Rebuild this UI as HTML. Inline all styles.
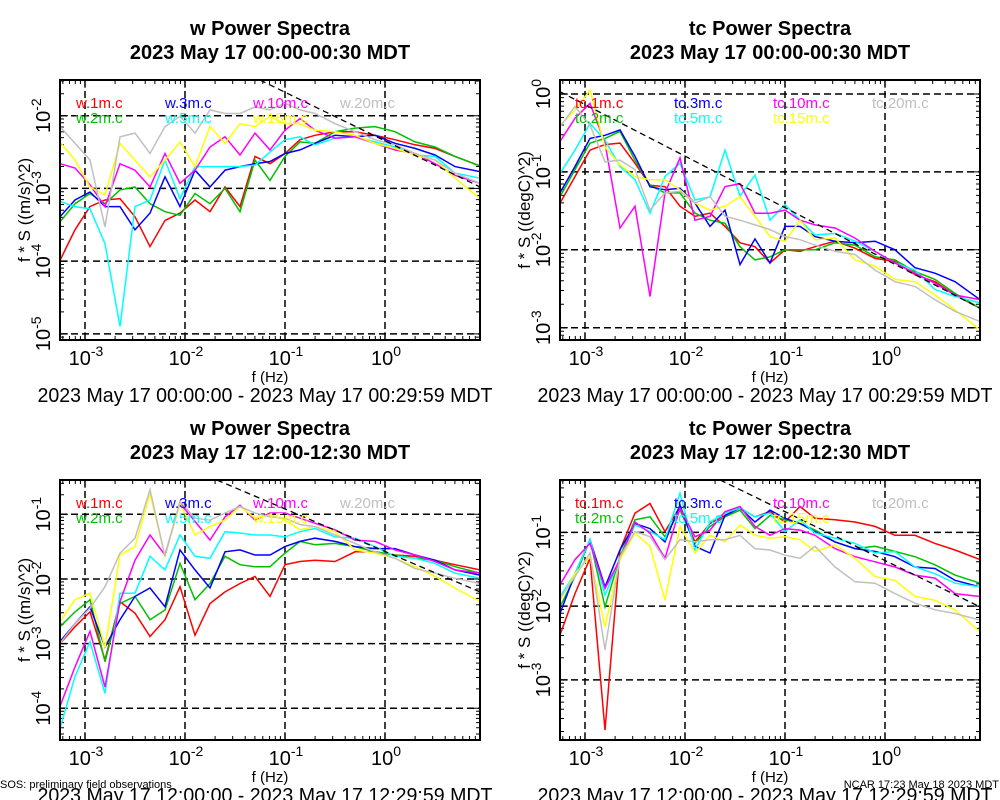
<!DOCTYPE html>
<html><head><meta charset="utf-8"><style>
html,body{margin:0;padding:0;background:#fff;}
svg{display:block;font-family:"Liberation Sans",sans-serif;}
</style></head><body>
<svg id="chart" width="1000" height="800" viewBox="0 0 1000 800" xmlns="http://www.w3.org/2000/svg">
<rect width="1000" height="800" fill="#fff"/>
</svg>
<script>
// shared frequency grid (log10 Hz)
const freqLog = [-3.25,-3.1,-2.95,-2.8,-2.65,-2.5,-2.35,-2.2,-2.05,-1.9,-1.75,-1.6,-1.45,-1.3,-1.15,-1.0,-0.85,-0.7,-0.5,-0.3,-0.1,0.1,0.3,0.5,0.7,0.95];
const seriesNames = ['1m','2m','3m','5m','10m','15m','20m'];
const seriesColors = ['#ff0000','#00c000','#0000ff','#00ffff','#ff00ff','#ffff00','#c0c0c0'];

// Panel 1: w 00:00 (log10 of f*S)
const w0_1m  = [-3.99,-3.57,-3.25,-3.16,-3.14,-3.39,-3.80,-3.44,-3.34,-3.16,-3.32,-2.98,-3.25,-2.56,-2.66,-2.52,-2.33,-2.27,-2.22,-2.22,-2.27,-2.33,-2.40,-2.45,-2.56,-2.69];
const w0_2m  = [-3.46,-3.21,-3.07,-3.21,-3.02,-2.98,-3.21,-3.32,-3.37,-3.07,-3.21,-3.00,-3.32,-2.61,-2.89,-2.56,-2.36,-2.38,-2.22,-2.17,-2.15,-2.22,-2.36,-2.43,-2.56,-2.69];
const w0_3m  = [-3.39,-3.16,-3.05,-3.25,-3.25,-3.57,-3.34,-2.84,-3.25,-2.75,-2.98,-2.75,-2.70,-2.66,-2.63,-2.52,-2.47,-2.38,-2.27,-2.29,-2.27,-2.38,-2.45,-2.54,-2.70,-2.77];
const w0_5m  = [-3.18,-3.25,-3.28,-3.76,-4.90,-3.25,-3.16,-2.61,-3.14,-2.70,-2.70,-2.70,-2.70,-2.68,-2.50,-2.33,-2.29,-2.40,-2.31,-2.29,-2.36,-2.43,-2.54,-2.56,-2.79,-2.86];
const w0_10m = [-2.66,-2.72,-2.95,-3.25,-2.66,-2.75,-2.98,-2.52,-2.93,-2.75,-2.43,-2.29,-2.54,-2.24,-2.47,-2.20,-2.04,-2.20,-2.31,-2.29,-2.38,-2.47,-2.52,-2.66,-2.82,-2.93];
const w0_15m = [-2.36,-2.61,-2.98,-3.09,-2.38,-2.61,-2.84,-2.61,-2.36,-2.70,-2.15,-2.38,-2.11,-2.15,-2.01,-2.11,-2.11,-2.20,-2.22,-2.27,-2.38,-2.45,-2.54,-2.61,-2.86,-3.14];
const w0_20m = [-2.15,-2.38,-2.61,-3.53,-2.29,-2.24,-2.52,-2.15,-2.01,-2.24,-1.92,-1.97,-1.97,-1.88,-1.92,-1.83,-1.92,-1.97,-2.11,-2.22,-2.33,-2.40,-2.52,-2.61,-2.79,-2.93];

// Panel 2: tc 00:00
const t0_1m  = [-1.40,-1.06,-0.72,-0.65,-0.63,-0.89,-1.17,-1.19,-1.44,-1.57,-1.53,-1.70,-1.91,-1.96,-2.17,-2.00,-2.02,-1.96,-1.89,-1.98,-2.11,-2.15,-2.32,-2.41,-2.58,-2.75];
const t0_2m  = [-1.32,-0.97,-0.63,-0.57,-0.48,-0.85,-1.17,-1.27,-1.27,-1.53,-1.62,-1.66,-1.96,-2.13,-2.09,-2.00,-2.00,-2.00,-1.91,-1.94,-2.09,-2.13,-2.28,-2.38,-2.56,-2.75];
const t0_3m  = [-1.27,-0.93,-0.57,-0.53,-0.46,-0.80,-1.19,-1.23,-1.21,-1.40,-1.70,-1.49,-2.19,-1.86,-2.17,-1.70,-1.70,-1.83,-1.89,-1.91,-1.89,-2.00,-2.23,-2.30,-2.41,-2.64];
const t0_5m  = [-1.02,-0.72,-0.38,-0.59,-0.93,-1.10,-1.53,-1.06,-0.89,-1.36,-1.32,-0.72,-1.31,-1.04,-1.62,-1.42,-1.62,-1.81,-1.79,-1.89,-2.02,-2.17,-2.26,-2.51,-2.60,-2.68];
const t0_10m = [-0.61,-0.31,-0.12,-0.63,-1.72,-1.44,-2.60,-1.27,-0.82,-1.62,-1.57,-1.19,-1.15,-1.53,-1.53,-1.49,-1.62,-1.68,-1.72,-1.85,-2.02,-2.17,-2.30,-2.43,-2.58,-2.64];
const t0_15m = [-0.40,-0.21,0.05,-0.68,-0.91,-1.06,-1.10,-1.10,-1.23,-1.40,-1.49,-1.44,-1.32,-1.57,-1.83,-1.89,-1.62,-1.87,-1.85,-2.13,-2.21,-2.38,-2.41,-2.58,-2.77,-3.03];
const t0_20m = [-0.42,-0.16,-0.40,-0.87,-0.85,-0.97,-1.49,-1.27,-1.25,-1.40,-1.32,-1.57,-1.62,-1.68,-1.74,-1.83,-1.87,-1.94,-2.02,-2.06,-2.26,-2.41,-2.47,-2.64,-2.79,-2.92];

// Panel 3: w 12:00
const w12_1m  = [-3.00,-2.74,-2.51,-3.25,-2.35,-2.53,-2.89,-2.63,-2.12,-2.87,-2.38,-2.20,-2.07,-1.96,-2.27,-1.78,-1.73,-1.71,-1.73,-1.58,-1.58,-1.63,-1.65,-1.71,-1.78,-1.86];
const w12_2m  = [-2.74,-2.51,-2.32,-3.28,-2.38,-2.27,-2.63,-2.48,-1.76,-2.32,-2.07,-1.65,-1.78,-1.81,-1.81,-1.60,-1.42,-1.47,-1.45,-1.50,-1.58,-1.63,-1.68,-1.71,-1.81,-1.91];
const w12_3m  = [-2.97,-2.69,-2.43,-3.05,-2.63,-2.27,-2.14,-2.43,-1.55,-1.86,-2.14,-1.58,-1.55,-1.63,-1.63,-1.50,-1.42,-1.37,-1.42,-1.50,-1.53,-1.53,-1.63,-1.71,-1.86,-1.94];
const w12_5m  = [-4.31,-3.51,-2.97,-3.77,-2.22,-2.22,-1.65,-1.86,-1.32,-1.65,-1.68,-1.27,-1.29,-1.32,-1.32,-1.35,-1.27,-1.22,-1.35,-1.37,-1.50,-1.65,-1.68,-1.76,-1.91,-1.99];
const w12_10m = [-3.97,-3.36,-2.81,-3.67,-2.35,-1.71,-1.32,-1.63,-0.83,-1.11,-1.40,-1.04,-0.86,-1.09,-0.98,-0.98,-1.06,-1.14,-1.24,-1.40,-1.42,-1.55,-1.63,-1.73,-1.86,-1.91];
const w12_15m = [-2.66,-2.32,-2.22,-3.06,-1.63,-1.50,-0.68,-1.65,-0.83,-1.32,-1.19,-1.09,-0.88,-1.06,-1.01,-1.09,-1.24,-1.19,-1.27,-1.55,-1.60,-1.68,-1.81,-1.96,-2.14,-2.35];
const w12_20m = [-3.00,-2.69,-2.45,-2.12,-1.60,-1.37,-0.62,-1.65,-0.80,-1.06,-1.09,-0.98,-0.88,-0.98,-1.04,-1.06,-1.16,-1.19,-1.32,-1.45,-1.58,-1.68,-1.84,-1.91,-1.99,-2.07];

// Panel 4: tc 12:00
const t12_1m  = [-2.39,-1.83,-1.35,-3.68,-1.24,-0.74,-0.61,-0.99,-0.65,-1.13,-0.88,-0.77,-0.67,-0.79,-0.72,-0.86,-0.65,-0.81,-0.83,-0.86,-0.92,-1.04,-1.04,-1.15,-1.24,-1.37];
const t12_2m  = [-2.01,-1.60,-1.10,-2.01,-1.33,-0.83,-0.79,-1.06,-0.70,-1.15,-0.92,-0.79,-0.70,-0.95,-0.77,-0.83,-0.88,-0.97,-1.13,-1.22,-1.19,-1.26,-1.33,-1.44,-1.58,-1.69];
const t12_3m  = [-2.10,-1.56,-1.10,-1.74,-1.24,-0.88,-0.95,-1.13,-0.63,-1.19,-1.28,-0.77,-0.67,-0.86,-0.70,-0.81,-0.88,-0.99,-1.13,-1.22,-1.26,-1.33,-1.47,-1.49,-1.65,-1.74];
const t12_5m  = [-1.87,-1.56,-1.10,-1.85,-1.35,-0.90,-0.99,-1.10,-0.47,-1.24,-0.86,-0.74,-0.67,-0.79,-0.74,-0.99,-0.83,-1.01,-1.08,-1.15,-1.28,-1.26,-1.47,-1.56,-1.69,-1.74];
const t12_10m = [-1.71,-1.37,-1.15,-1.76,-1.37,-0.86,-1.01,-1.35,-0.67,-1.06,-0.97,-0.72,-0.65,-0.92,-1.04,-0.95,-0.97,-1.04,-1.22,-1.33,-1.40,-1.47,-1.58,-1.62,-1.83,-1.87];
const t12_15m = [-1.92,-1.56,-1.33,-2.28,-1.37,-1.01,-1.19,-1.92,-0.92,-1.28,-1.04,-1.13,-0.90,-1.04,-1.08,-1.06,-1.10,-1.26,-1.17,-1.35,-1.60,-1.65,-1.87,-1.92,-2.05,-2.35];
const t12_20m = [-1.89,-1.60,-1.28,-2.59,-1.33,-0.99,-1.06,-1.37,-1.10,-1.13,-1.10,-1.10,-1.04,-1.22,-1.24,-1.31,-1.35,-1.19,-1.47,-1.67,-1.69,-1.83,-1.96,-2.05,-2.10,-2.19];

// -5/3 reference line anchors [logf, log(f*S)]
const ref0w = [[-1.25,-1.51],[0.95,-2.98]];
const ref0t = [[-3.25,0.03],[0.95,-2.75]];
const ref12w = [[-1.68,-0.47],[0.95,-2.20]];
const ref12t = [[-1.65,-0.29],[0.95,-2.01]];

const xTicks = [-3,-2,-1,0];
const xTickLabels = ['-3','-2','-1','0'];

const panels = [
 {id:'w-00',left:60,top:80,ymin:-5.085,ymax:-1.509,yTicks:[-2,-3,-4,-5],prefix:'w',title:'w Power Spectra',sub:'2023 May 17 00:00-00:30 MDT',date:'2023 May 17 00:00:00 - 2023 May 17 00:29:59 MDT',ylab:'f * S ((m/s)^2)',data:[w0_1m,w0_2m,w0_3m,w0_5m,w0_10m,w0_15m,w0_20m],ref:ref0w},
 {id:'tc-00',left:560,top:80,ymin:-3.158,ymax:0.18,yTicks:[0,-1,-2,-3],prefix:'tc',title:'tc Power Spectra',sub:'2023 May 17 00:00-00:30 MDT',date:'2023 May 17 00:00:00 - 2023 May 17 00:29:59 MDT',ylab:'f * S ((degC)^2)',data:[t0_1m,t0_2m,t0_3m,t0_5m,t0_10m,t0_15m,t0_20m],ref:ref0t},
 {id:'w-12',left:60,top:480,ymin:-4.49,ymax:-0.47,yTicks:[-1,-2,-3,-4],prefix:'w',title:'w Power Spectra',sub:'2023 May 17 12:00-12:30 MDT',date:'2023 May 17 12:00:00 - 2023 May 17 12:29:59 MDT',ylab:'f * S ((m/s)^2)',data:[w12_1m,w12_2m,w12_3m,w12_5m,w12_10m,w12_15m,w12_20m],ref:ref12w},
 {id:'tc-12',left:560,top:480,ymin:-3.814,ymax:-0.291,yTicks:[-1,-2,-3],prefix:'tc',title:'tc Power Spectra',sub:'2023 May 17 12:00-12:30 MDT',date:'2023 May 17 12:00:00 - 2023 May 17 12:29:59 MDT',ylab:'f * S ((degC)^2)',data:[t12_1m,t12_2m,t12_3m,t12_5m,t12_10m,t12_15m,t12_20m],ref:ref12t}
];

const NS='http://www.w3.org/2000/svg';
const svg=document.getElementById('chart');
const W=420,H=260,XMIN=-3.25,XMAX=0.95;
function mk(tag,attrs,parent){const e=document.createElementNS(NS,tag);for(const k in attrs)e.setAttribute(k,attrs[k]);(parent||svg).appendChild(e);return e;}

panels.forEach((p,pi)=>{
  const g=mk('g',{});
  
  
  const xs=v=>p.left+(v-XMIN)/(XMAX-XMIN)*W;
  const ys=v=>p.top+(p.ymax-v)/(p.ymax-p.ymin)*H;
  const cx=p.left+210;
  // titles
  const t1=mk('text',{x:cx,y:p.top-45,'text-anchor':'middle','font-size':'20','font-weight':'bold'},g);t1.textContent=p.title;
  
  
  const t2=mk('text',{x:cx,y:p.top-21,'text-anchor':'middle','font-size':'20','font-weight':'bold'},g);t2.textContent=p.sub;
  
  
  // clip
  const cp=mk('clipPath',{id:'clip'+pi},g);mk('rect',{x:p.left,y:p.top,width:W,height:H},cp);
  // minor ticks
  let ticks='';
  for(let d=-4;d<=1;d++)for(let m=1;m<10;m++){const lv=d+Math.log10(m);if(lv<XMIN||lv>XMAX)continue;const x=xs(lv);const L=m===1?8:4;
    ticks+=`M${x},${p.top}v${L}M${x},${p.top+H}v${-L}`;}
  for(let d=-6;d<=1;d++)for(let m=1;m<10;m++){const lv=d+Math.log10(m);if(lv<p.ymin||lv>p.ymax)continue;const y=ys(lv);const L=m===1?8:4;
    ticks+=`M${p.left},${y}h${L}M${p.left+W},${y}h${-L}`;}
  const tk=mk('path',{d:ticks,stroke:'#000','stroke-width':'1',fill:'none'},g);
  
  
  // grid
  let gd='';
  xTicks.forEach(v=>{const x=xs(v);gd+=`M${x},${p.top}V${p.top+H}`;});
  p.yTicks.forEach(v=>{const y=ys(v);gd+=`M${p.left},${y}H${p.left+W}`;});
  const gp=mk('path',{d:gd,stroke:'#000','stroke-width':'1.5','stroke-dasharray':'7,4',fill:'none'},g);
  
  
  // series
  const sg=mk('g',{'clip-path':`url(#clip${pi})`},g);
  p.data.forEach((arr,si)=>{
    const pts=arr.map((v,i)=>xs(freqLog[i]).toFixed(1)+','+ys(v).toFixed(1)).join(' ');
    const pl=mk('polyline',{points:pts,fill:'none',stroke:seriesColors[si],'stroke-width':'1.5','stroke-linejoin':'miter'},sg);
    
    
  });
  // reference line
  const rl=mk('line',{x1:xs(p.ref[0][0]),y1:ys(p.ref[0][1]),x2:xs(p.ref[1][0]),y2:ys(p.ref[1][1]),stroke:'#000','stroke-width':'1.3','stroke-dasharray':'6,4'},sg);
  
  
  // legend
  const cols=pi%2===0?[76,165,253,340]:[575,674,773,872];
  const colIdx=[0,0,1,1,2,2,3];
  seriesNames.forEach((n,si)=>{
    const tx=mk('text',{x:cols[colIdx[si]],y:p.top+28+(si%2)*15,'font-size':'15',fill:seriesColors[si]},g);
    tx.textContent=p.prefix+'.'+n+'.c';
    
    
  });
  // frame
  const fr=mk('rect',{x:p.left,y:p.top,width:W,height:H,fill:'none',stroke:'#000','stroke-width':'2'},g);
  
  
  // x tick labels
  xTicks.forEach((v,i)=>{
    const tx=mk('text',{x:xs(v)+1,y:p.top+H+25,'text-anchor':'middle','font-size':'20'},g);
    
    
    const a=mk('tspan',{},tx);a.textContent='10';
    const b=mk('tspan',{dy:'-9','font-size':'14'},tx);b.textContent=xTickLabels[i];
  });
  const xl=mk('text',{x:cx,y:p.top+H+42,'text-anchor':'middle','font-size':'15'},g);xl.textContent='f (Hz)';
  
  
  const dl=mk('text',{x:cx-5,y:p.top+H+62,'text-anchor':'middle','font-size':'20',textLength:'455',lengthAdjust:'spacingAndGlyphs'},g);dl.textContent=p.date;
  
  
  // y tick labels
  p.yTicks.forEach(v=>{
    const y=ys(v);
    const tx=mk('text',{transform:`translate(${p.left-10},${y}) rotate(-90)`,'text-anchor':'middle','font-size':'20'},g);
    
    
    const a=mk('tspan',{},tx);a.textContent='10';
    const b=mk('tspan',{dy:'-9','font-size':'14'},tx);b.textContent=String(v);
  });
  const yl=mk('text',{transform:`translate(${p.left-30},${p.top+H/2}) rotate(-90)`,'text-anchor':'middle','font-size':'17'},g);yl.textContent=p.ylab;
  
  
});
const f1=mk('text',{x:0,y:788,'font-size':'11'});f1.textContent='SOS: preliminary field observations';


const f2=mk('text',{x:999,y:788,'font-size':'11','text-anchor':'end'});f2.textContent='NCAR 17:23 May 18 2023 MDT';


</script>
</body></html>
